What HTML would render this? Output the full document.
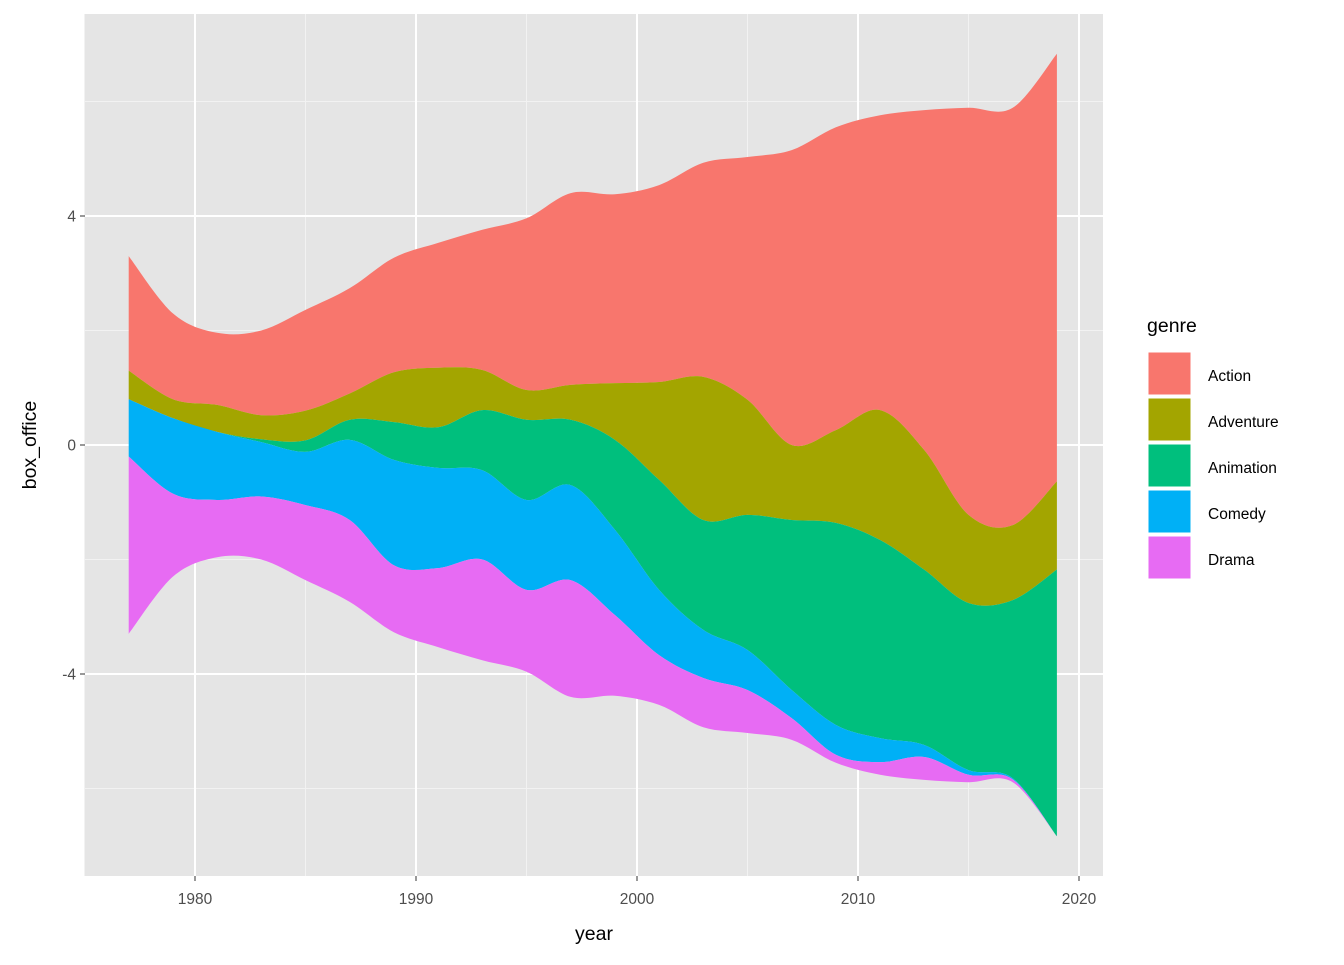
<!DOCTYPE html>
<html><head><meta charset="utf-8"><style>
body{margin:0;background:#fff;font-family:"Liberation Sans",Arial,sans-serif}
</style></head><body>
<svg id="c" width="1344" height="960" xmlns="http://www.w3.org/2000/svg">
<rect x="85" y="14" width="1018" height="862" fill="#e5e5e5"/>
<g id="grid"></g>
<g id="layers"></g>
<g id="axes"></g>
<g id="legend"></g>
</svg>
<script>
const years=[1977,1979,1981,1983,1985,1987,1989,1991,1993,1995,1997,1999,2001,2003,2005,2007,2009,2011,2013,2015,2017,2019];
const genres=["Action","Adventure","Animation","Comedy","Drama"];
const colors=["#F8766D","#A3A500","#00BF7D","#00B0F6","#E76BF3"];
const action=[2.0,1.5,1.26,1.48,1.76,1.84,2.0,2.18,2.45,3.0,3.35,3.3,3.44,3.74,4.24,5.15,5.29,5.15,5.94,7.11,7.29,7.47];
const adventure=[0.5,0.33,0.47,0.42,0.52,0.46,0.87,1.04,0.7,0.52,0.61,0.99,1.71,2.5,2.01,1.31,1.62,2.27,2.09,1.54,1.31,1.54];
const animation=[0,0,0,0.05,0.2,0.35,0.66,0.71,1.05,1.4,1.14,1.57,1.92,1.92,2.36,2.97,3.53,3.46,3.06,2.92,3.11,4.66];
const comedy=[1.0,1.32,1.19,0.95,0.93,1.4,1.84,1.75,1.56,1.57,1.66,1.49,1.14,0.84,0.7,0.49,0.52,0.42,0.21,0.08,0.02,0.0];
const drama=[3.1,1.45,1.0,1.1,1.31,1.43,1.17,1.38,1.76,1.43,2.04,1.41,0.87,0.86,0.75,0.38,0.14,0.22,0.4,0.13,0.05,0.0];
const series=[action,adventure,animation,comedy,drama];
const xTicks=[1980,1990,2000,2010,2020];
const xMinor=[1975,1985,1995,2005,2015];
const yTicks=[-4,0,4];
const yMinor=[-6,-2,2,6];
const X=y=>195+(y-1980)*22.1;
const Y=v=>445-v*57.25;
const NS="http://www.w3.org/2000/svg";
function mk(tag,attrs,parent){const e=document.createElementNS(NS,tag);for(const k in attrs)e.setAttribute(k,attrs[k]);parent.appendChild(e);return e;}
const grid=document.getElementById('grid');
xMinor.forEach(t=>{const l=mk('line',{x1:X(t),x2:X(t),y1:14,y2:876,stroke:'#f2f2f2','stroke-width':1},grid);

});
yMinor.forEach(t=>{const l=mk('line',{x1:85,x2:1103,y1:Y(t),y2:Y(t),stroke:'#f2f2f2','stroke-width':1},grid);

});
xTicks.forEach(t=>{const l=mk('line',{x1:X(t),x2:X(t),y1:14,y2:876,stroke:'#fff','stroke-width':2},grid);

});
yTicks.forEach(t=>{const l=mk('line',{x1:85,x2:1103,y1:Y(t),y2:Y(t),stroke:'#fff','stroke-width':2},grid);

});
// boundaries
const n=years.length;
const totals=years.map((_,i)=>series.reduce((s,a)=>s+a[i],0));
const bounds=[];let cur=totals.map(t=>t/2);bounds.push(cur.slice());
series.forEach(a=>{cur=cur.map((c,i)=>c-a[i]);bounds.push(cur.slice());});
function spline(pts){let d='';for(let i=0;i<pts.length-1;i++){const p0=pts[Math.max(i-1,0)],p1=pts[i],p2=pts[i+1],p3=pts[Math.min(i+2,pts.length-1)];
const c1=[p1[0]+(p2[0]-p0[0])/6,p1[1]+(p2[1]-p0[1])/6],c2=[p2[0]-(p3[0]-p1[0])/6,p2[1]-(p3[1]-p1[1])/6];
d+=` C${c1[0]},${c1[1]} ${c2[0]},${c2[1]} ${p2[0]},${p2[1]}`;}return d;}
const layers=document.getElementById('layers');
series.forEach((a,g)=>{const up=years.map((y,i)=>[X(y),Y(bounds[g][i])]);const lo=years.map((y,i)=>[X(y),Y(bounds[g+1][i])]).reverse();
const d=`M${up[0][0]},${up[0][1]}`+spline(up)+` L${lo[0][0]},${lo[0][1]}`+spline(lo)+'Z';
const p=mk('path',{d:d,fill:colors[g]},layers);

});
const axes=document.getElementById('axes');
xTicks.forEach(t=>{mk('line',{x1:X(t),x2:X(t),y1:876,y2:881,stroke:'#333','stroke-width':1},axes);
const tx=mk('text',{x:X(t),y:904,'text-anchor':'middle','font-size':15.5,fill:'#4d4d4d'},axes);tx.textContent=t;

});
yTicks.forEach(t=>{mk('line',{x1:80,x2:85,y1:Y(t),y2:Y(t),stroke:'#333','stroke-width':1},axes);
const tx=mk('text',{x:76,y:Y(t)+5.5,'text-anchor':'end','font-size':15.5,fill:'#4d4d4d'},axes);tx.textContent=t;

});
const xt=mk('text',{x:594,y:940,'text-anchor':'middle','font-size':19.5,fill:'#000'},axes);xt.textContent='year';


const yt=mk('text',{x:36,y:445,'text-anchor':'middle','font-size':19.5,fill:'#000',transform:'rotate(-90 36 445)'},axes);yt.textContent='box_office';


const lg=document.getElementById('legend');
const lt=mk('text',{x:1147,y:332,'font-size':19.5,fill:'#000'},lg);lt.textContent='genre';


genres.forEach((g,i)=>{const y0=352+i*46;
const r=mk('rect',{x:1148,y:y0,width:43,height:43,fill:colors[i],stroke:'#fff','stroke-width':1},lg);


const t=mk('text',{x:1208,y:y0+29,'font-size':15.5,fill:'#000'},lg);t.textContent=g;

});
</script>
</body></html>
